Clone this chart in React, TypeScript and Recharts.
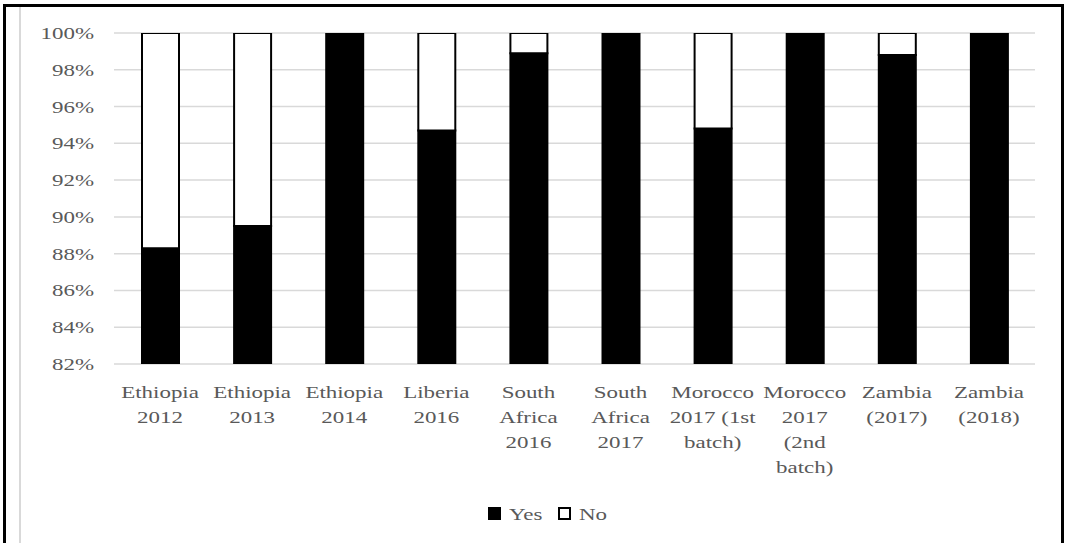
import { BarChart, Bar, XAxis, YAxis, CartesianGrid, Legend } from "recharts"

// category labels, "\n" marks where the label wraps
const categories = [
  "Ethiopia\n2012",
  "Ethiopia\n2013",
  "Ethiopia\n2014",
  "Liberia\n2016",
  "South\nAfrica\n2016",
  "South\nAfrica\n2017",
  "Morocco\n2017 (1st\nbatch)",
  "Morocco\n2017\n(2nd\nbatch)",
  "Zambia\n(2017)",
  "Zambia\n(2018)",
]

const yes = [88.3, 89.5, 100, 94.7, 98.9, 100, 94.8, 100, 98.8, 100]
const no = [11.7, 10.5, 0, 5.3, 1.1, 0, 5.2, 0, 1.2, 0]

const seriesNames = ["Yes", "No"]
const yTicks = [82, 84, 86, 88, 90, 92, 94, 96, 98, 100]

const data = categories.map((label, i) => ({ label, yes: yes[i], no: no[i] }))

const FONT = "'Liberation Serif', 'Times New Roman', serif"
const TEXT = "#595959"
const STRETCH = 1.35

function XTick({ x, y, payload }: any) {
  const lines = String(payload.value).split("\n")
  return (
    <g transform={`translate(${x},${y})`}>
      <text
        transform={`scale(${STRETCH},1)`}
        textAnchor="middle"
        fill={TEXT}
        fontFamily={FONT}
        fontSize={17}
      >
        {lines.map((line, i) => (
          <tspan key={i} x={0} y={34 + i * 25}>
            {line}
          </tspan>
        ))}
      </text>
    </g>
  )
}

function YTick({ x, y, payload }: any) {
  return (
    <g transform={`translate(${x},${y})`}>
      <text
        transform={`scale(${STRETCH},1)`}
        textAnchor="end"
        dy="0.35em"
        fill={TEXT}
        fontFamily={FONT}
        fontSize={17}
      >
        {payload.value}%
      </text>
    </g>
  )
}

function LegendContent({ payload }: any) {
  // keep series order (Yes first) regardless of how the payload is sorted
  const items = [...(payload || [])].sort(
    (a: any, b: any) => seriesNames.indexOf(a.value) - seriesNames.indexOf(b.value)
  )
  return (
    <div style={{ position: "relative", width: 130, height: 16, fontFamily: FONT, fontSize: 17, lineHeight: "16px", color: TEXT }}>
      {items.map((item: any, i: number) => {
        const left = i * 70
        const filled = item.value === "Yes"
        return (
          <div key={item.value}>
            <div
              style={{
                position: "absolute",
                left,
                top: 0,
                width: 13,
                height: 13,
                boxSizing: "border-box",
                background: filled ? "#000" : "#fff",
                border: "2px solid #000",
              }}
            />
            <span
              style={{
                position: "absolute",
                left: left + 21,
                top: 0,
                whiteSpace: "nowrap",
                transform: `scaleX(${STRETCH})`,
                transformOrigin: "left",
              }}
            >
              {item.value}
            </span>
          </div>
        )
      })}
    </div>
  )
}

export default function App() {
  return (
    <div style={{ position: "absolute", left: 0, top: 0, width: 1066, height: 543, overflow: "hidden", background: "#fff" }}>
      {/* outer frame, open at the bottom */}
      <div
        style={{
          position: "absolute",
          left: 3,
          top: 4,
          width: 1061,
          height: 600,
          boxSizing: "border-box",
          border: "3px solid #000",
        }}
      />
      <div style={{ position: "absolute", left: 19, top: 7, width: 2, height: 600, background: "#d9d9d9" }} />

      <div style={{ position: "absolute", left: 0, top: 0 }}>
        <BarChart width={1066} height={543} data={data} margin={{ top: 33, right: 31, left: 0, bottom: 20 }}>
          <CartesianGrid vertical={false} stroke="#d9d9d9" strokeWidth={1.5} />
          <XAxis
            dataKey="label"
            axisLine={false}
            tickLine={false}
            tickSize={0}
            tickMargin={0}
            height={143}
            interval={0}
            tick={<XTick />}
          />
          <YAxis
            type="number"
            domain={[82, 100]}
            ticks={yTicks}
            allowDataOverflow
            axisLine={false}
            tickLine={false}
            tickSize={0}
            tickMargin={20}
            width={114}
            interval={0}
            tick={<YTick />}
          />
          <Legend
            verticalAlign="bottom"
            content={<LegendContent />}
            wrapperStyle={{ left: 488, width: 130 }}
          />
          <Bar dataKey="yes" name="Yes" stackId="s" fill="#000" stroke="#000" strokeWidth={2} barSize={37} isAnimationActive={false} />
          <Bar dataKey="no" name="No" stackId="s" fill="#fff" stroke="#000" strokeWidth={2} barSize={37} isAnimationActive={false} />
        </BarChart>
      </div>
    </div>
  )
}
